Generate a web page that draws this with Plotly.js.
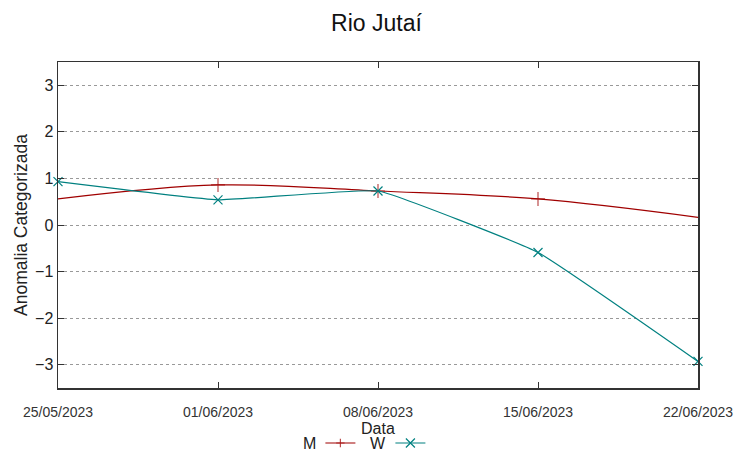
<!DOCTYPE html>
<html>
<head>
<meta charset="utf-8">
<script src="https://cdn.plot.ly/plotly-3.0.1.min.js"></script>
<style>html,body{margin:0;padding:0;background:#fff;}#chart{width:753px;height:459px;}</style>
</head>
<body>
<div id="chart"></div>
<script>
var dates = ["2023-05-25", "2023-06-01", "2023-06-08", "2023-06-15", "2023-06-22"];
var tickLabels = ["25/05/2023", "01/06/2023", "08/06/2023", "15/06/2023", "22/06/2023"];
var seriesM = [0.56, 0.86, 0.73, 0.56, 0.165];
var seriesW = [0.93, 0.54, 0.73, -0.59, -2.93];
var yTicks = [-3, -2, -1, 0, 1, 2, 3];

var font = "Liberation Sans, Arial, sans-serif";
var traces = [
  {x: dates, y: seriesM, name: "M", type: "scatter", mode: "lines+markers",
   line: {color: "#a00000", width: 1.2, shape: "spline", smoothing: 1},
   marker: {symbol: "cross-thin", size: [0, 10, 10, 10, 0], line: {color: "#a00000", width: 1.2}}},
  {x: dates, y: seriesW, name: "W", type: "scatter", mode: "lines+markers",
   line: {color: "#008080", width: 1.2, shape: "spline", smoothing: 0.3},
   marker: {symbol: "x-thin", size: 9, line: {color: "#008080", width: 1.2}},
   cliponaxis: false}
];

var legY = 16 / 459;
var annY = (388 - 444) / 326;
var layout = {
  width: 753, height: 459,
  margin: {l: 58, r: 55, t: 62, b: 71, autoexpand: false},
  paper_bgcolor: "#fff", plot_bgcolor: "#fff",
  font: {family: font, color: "#222"},
  title: {text: "Rio Jutaí", font: {size: 23, family: font, color: "#111"}, x: 0.5, xanchor: "center", y: 0.95, yanchor: "middle"},
  xaxis: {
    type: "date", range: [dates[0], dates[dates.length - 1]],
    tickvals: dates, ticktext: tickLabels,
    ticks: "inside", ticklen: 6, tickcolor: "#333", mirror: "ticks",
    showline: true, linecolor: "#333", linewidth: 1.5,
    showgrid: false, zeroline: false,
    tickfont: {size: 14, family: font, color: "#333"},
    ticklabelstandoff: 11
  },
  yaxis: {
    range: [-3.5, 3.5], tickvals: yTicks,
    ticks: "inside", ticklen: 6, tickcolor: "#333", mirror: "ticks",
    showline: true, linecolor: "#333", linewidth: 1.5,
    showgrid: true, gridcolor: "#999", griddash: "dot", gridwidth: 1,
    zeroline: false,
    tickfont: {size: 16, family: font, color: "#222"},
    title: {text: "Anomalia Categorizada", font: {size: 17.5, family: font, color: "#222"}, standoff: 3}
  },
  showlegend: true,
  legend: {orientation: "h", x: 0.41, xanchor: "left", yref: "container", y: legY, yanchor: "middle",
           font: {size: 1, family: font, color: "rgba(0,0,0,0)"},
           entrywidth: 25, entrywidthmode: "pixels", itemwidth: 30, bgcolor: "rgba(0,0,0,0)"},
  annotations: [
    {text: "Data", xref: "paper", yref: "paper", x: 0.5, y: (388 - 428) / 326, xanchor: "center", yanchor: "middle", showarrow: false, font: {size: 16, family: font, color: "#222"}},
    {text: "M", xref: "paper", yref: "paper", x: (318 - 58) / 640, y: annY, xanchor: "right", yanchor: "middle", showarrow: false, font: {size: 16, family: font, color: "#222"}},
    {text: "W", xref: "paper", yref: "paper", x: (388 - 58) / 640, y: annY, xanchor: "right", yanchor: "middle", showarrow: false, font: {size: 16, family: font, color: "#222"}}
  ]
};

Plotly.newPlot("chart", traces, layout, {staticPlot: true, displayModeBar: false});
</script>
</body>
</html>
